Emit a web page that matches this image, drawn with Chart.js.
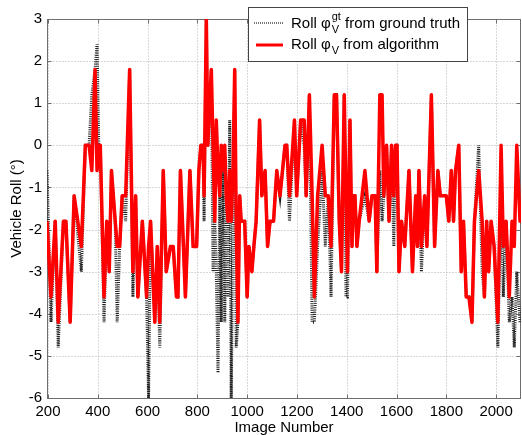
<!DOCTYPE html>
<html>
<head>
<meta charset="utf-8">
<script src="https://cdn.jsdelivr.net/npm/chart.js@4/dist/chart.umd.min.js"></script>
<style>
  html, body { margin: 0; padding: 0; background: #fff; }
  #roll-chart { display: block; }
</style>
</head>
<body>
<canvas id="roll-chart" width="522" height="435"></canvas>
<script>
// image numbers where the roll estimates change
var imageNumbers = [196,212,229,241,262,272,289,305,334,350,365,376,389,397,404,410,425,436,446,455,
  470,478,488,498,512,528,541,552,561,579,596,604,612,629,639,649,663,675,692,703,
  716,722,732,752,770,783,797,806,814,823,827,836,842,856,863,870,876,883,890,896,
  903,910,916,923,930,936,943,950,956,963,970,976,990,1000,1007,1019,1027,1036,1050,1059,
  1072,1082,1092,1106,1119,1132,1152,1159,1170,1190,1199,1215,1229,1237,1250,1261,1270,1283,1301,1314,
  1326,1337,1350,1359,1370,1379,1390,1397,1403,1413,1421,1426,1433,1441,1450,1473,1490,1501,1514,1521,
  1533,1542,1549,1560,1570,1580,1589,1596,1602,1610,1620,1633,1650,1664,1677,1684,1690,1700,1713,1722,
  1740,1753,1766,1776,1793,1800,1810,1820,1829,1837,1850,1860,1869,1880,1891,1903,1913,1930,1944,1953,
  1962,1970,1980,1992,2007,2020,2029,2040,2053,2064,2073,2083,2096,2100];

var rollAlgorithm = [-1.8,-3.6,-1.8,-4.2,-1.8,-1.8,-4.2,-1.2,-2.4,0,0,-0.6,1.8,-0.6,0,0,-3.6,-1.8,-3.0,-0.6,
  -1.8,-2.4,-2.4,-1.2,-1.2,1.8,-3.0,-1.2,-3.6,-1.8,-3.6,-2.4,-1.8,-4.2,-2.4,-4.2,-0.6,-3.0,-2.4,-2.4,
  -3.6,-3.6,-0.6,-3.6,-0.6,-2.4,-2.4,-0.6,0,0,-1.2,3.0,0,1.8,0,-1.8,0.6,-0.6,-1.2,0,
  -0.6,0,-1.2,-1.8,-0.6,-1.8,-0.6,1.8,-1.8,-4.2,-1.2,-1.8,-1.8,-3.6,-2.4,-3.0,-2.4,-1.8,0.6,-1.2,
  -0.6,-2.4,-1.8,-1.8,-0.6,-1.2,0,0,-1.2,0.6,-1.2,0.6,0.6,-1.2,1.2,-1.2,-3.6,-1.2,0,-1.2,
  -1.2,-2.4,1.2,1.2,-1.8,-3.0,1.2,-1.2,-3.0,0.6,-2.4,-1.2,-1.2,-2.4,-1.8,-0.6,-1.8,-1.2,-1.2,-3.0,
  1.2,1.2,-1.2,0,-1.8,0,-1.2,0,0,-3.0,-1.8,-2.4,-0.6,-3.0,-1.2,-2.4,-0.6,-2.4,-1.2,-2.4,
  1.2,-2.4,-0.6,-1.2,-1.2,-1.2,-1.8,-0.6,-1.8,-0.6,0,-3.0,-1.8,-3.6,-3.6,-4.2,-1.8,-0.6,-1.8,-3.6,
  -1.8,-3.0,-1.8,-2.4,-4.2,0,-2.4,-1.8,-3.6,-1.8,-2.4,0,-1.8,-1.8];

var rollGroundTruth = [-0.6,-4.2,-1.8,-4.8,-1.8,-1.8,-4.2,-1.2,-3.0,0,0,1.2,1.8,2.4,0,0,-4.2,-1.8,-3.0,-0.6,
  -1.8,-4.2,-2.4,-1.2,-1.8,1.8,-3.6,-1.2,-3.6,-1.8,-3.6,-6.0,-1.8,-4.2,-2.4,-4.8,-0.6,-3.0,-2.4,-2.4,
  -3.6,-3.6,-0.6,-3.6,-0.6,-2.4,-2.4,-0.6,0,0,-1.8,3.0,0,1.8,-3.0,-1.8,-3.0,-5.4,-1.2,-4.2,
  -0.6,-4.2,-1.2,-3.6,0.6,-6.0,-1.8,1.8,-4.8,-4.2,-1.2,-1.8,-1.8,-3.6,-2.4,-3.0,-2.4,-1.8,0.6,-1.2,
  -0.6,-2.4,-1.8,-1.8,-0.6,-1.2,0,0,-1.8,0.6,-1.2,0.6,0,-1.2,1.2,-4.2,-4.2,-2.4,-0.6,-2.4,
  -1.2,-3.6,1.2,1.2,-1.8,-3.0,1.2,-3.6,-3.6,0.6,-2.4,-1.2,-1.2,-2.4,-1.8,-1.2,-1.8,-1.2,-1.2,-3.0,
  -0.6,-1.8,-1.2,0,-1.8,0,-2.4,0,0,-3.0,-1.8,-2.4,-0.6,-3.0,-1.2,-2.4,-0.6,-3.0,-1.2,-2.4,
  1.2,-2.4,-0.6,-1.2,-1.2,-1.2,-1.8,-0.6,-1.8,-0.6,0,-3.0,-1.8,-3.6,-3.6,-4.2,-1.8,0,-3.0,-3.6,
  -1.8,-3.0,-1.8,-2.4,-4.8,-1.2,-3.6,-1.8,-4.2,-3.6,-4.8,-3.0,-4.2,-4.2];

var xTicks = [200,400,600,800,1000,1200,1400,1600,1800,2000];
var yTicks = [-6,-5,-4,-3,-2,-1,0,1,2,3];

var FONT = "'Liberation Sans', Arial, Helvetica, sans-serif";

function points(values) {
    return imageNumbers.map(function (n, i) { return { x: n, y: values[i] }; });
}

// dotted grid, inward ticks and the box around the plot (matlab style)
var frame = {
    id: 'frame',
    beforeDatasetsDraw: function (chart) {
        var a = chart.chartArea, ctx = chart.ctx;
        var xs = chart.scales.x, ys = chart.scales.y;
        var L = Math.round(a.left) + 0.5, R = Math.round(a.right) - 0.5;
        var T = Math.round(a.top) + 0.5, B = Math.round(a.bottom) + 0.5;
        ctx.save();
        ctx.lineWidth = 1;
        ctx.strokeStyle = '#b0b0b0';
        ctx.setLineDash([1, 2]);
        ctx.beginPath();
        xTicks.forEach(function (v) {
            var px = Math.round(xs.getPixelForValue(v)) + 0.5;
            ctx.moveTo(px, T); ctx.lineTo(px, B);
        });
        yTicks.forEach(function (v) {
            var py = Math.round(ys.getPixelForValue(v)) + 0.5;
            ctx.moveTo(L, py); ctx.lineTo(R, py);
        });
        ctx.stroke();

        ctx.setLineDash([]);
        ctx.strokeStyle = '#6e6e6e';
        ctx.beginPath();
        xTicks.forEach(function (v) {
            var px = Math.round(xs.getPixelForValue(v)) + 0.5;
            ctx.moveTo(px, B); ctx.lineTo(px, B - 4);
            ctx.moveTo(px, T); ctx.lineTo(px, T + 4);
        });
        yTicks.forEach(function (v) {
            var py = Math.round(ys.getPixelForValue(v)) + 0.5;
            ctx.moveTo(L, py); ctx.lineTo(L + 4, py);
            ctx.moveTo(R, py); ctx.lineTo(R - 4, py);
        });
        ctx.stroke();
        ctx.strokeRect(L, T, R - L, B - T);
        ctx.restore();
    }
};

// legend drawn by hand because of the sub/superscripts
var legendBox = {
    id: 'legendBox',
    afterDraw: function (chart) {
        var ctx = chart.ctx;
        ctx.save();
        ctx.fillStyle = '#fff';
        ctx.fillRect(248.5, 7.5, 219, 54);
        ctx.strokeStyle = '#444';
        ctx.lineWidth = 1;
        ctx.strokeRect(248.5, 7.5, 219, 54);

        ctx.beginPath();
        ctx.setLineDash([1, 1]);
        ctx.strokeStyle = '#777';
        ctx.lineWidth = 2;
        ctx.moveTo(254, 23); ctx.lineTo(284, 23);
        ctx.stroke();

        ctx.beginPath();
        ctx.setLineDash([]);
        ctx.strokeStyle = '#ff0000';
        ctx.lineWidth = 3;
        ctx.moveTo(256, 45); ctx.lineTo(283, 45);
        ctx.stroke();

        ctx.fillStyle = '#000';
        ctx.textBaseline = 'alphabetic';
        var rows = [
            { y: 28, sup: 'gt', rest: ' from ground truth' },
            { y: 49, sup: '', rest: ' from algorithm' }
        ];
        rows.forEach(function (r) {
            var x = 291;
            ctx.font = '15px ' + FONT;
            ctx.fillText('Roll ', x, r.y);
            x += ctx.measureText('Roll ').width;
            ctx.fillText('\u03c6', x, r.y);
            x += ctx.measureText('\u03c6').width + 1;
            ctx.font = '11px ' + FONT;
            ctx.fillText('V', x, r.y + 5);
            var w = ctx.measureText('V').width;
            if (r.sup) {
                ctx.fillText(r.sup, x, r.y - 8);
                w = Math.max(w, ctx.measureText(r.sup).width);
            }
            x += w;
            ctx.font = '15px ' + FONT;
            ctx.fillText(r.rest, x, r.y);
        });
        ctx.restore();
    }
};

var rollChart = new Chart(document.getElementById('roll-chart'), {
    type: 'line',
    data: {
        datasets: [
            {
                label: 'Roll from ground truth',
                data: points(rollGroundTruth),
                borderColor: '#222',
                borderWidth: 3,
                borderDash: [1, 1.2],
                pointRadius: 0,
                tension: 0,
                order: 2
            },
            {
                label: 'Roll from algorithm',
                data: points(rollAlgorithm),
                borderColor: '#ff0000',
                borderWidth: 3.5,
                borderJoinStyle: 'round',
                pointRadius: 0,
                tension: 0,
                order: 1
            }
        ]
    },
    options: {
        responsive: false,
        animation: false,
        devicePixelRatio: 1,
        layout: { padding: { top: 19, right: 1, left: 0, bottom: 0 } },
        plugins: {
            legend: { display: false },
            tooltip: { enabled: false }
        },
        scales: {
            x: {
                type: 'linear',
                min: 196,
                max: 2100,
                afterBuildTicks: function (s) { s.ticks = xTicks.map(function (v) { return { value: v }; }); },
                afterFit: function (s) { s.height = 37; },
                grid: { display: false, drawTicks: false },
                border: { display: false },
                ticks: {
                    color: '#000', font: { family: FONT, size: 15 }, padding: 5, maxRotation: 0,
                    callback: function (v) { return String(v); }
                },
                title: { display: true, text: 'Image Number', color: '#000', font: { family: FONT, size: 15 }, padding: { top: 0, bottom: -2 } }
            },
            y: {
                min: -6,
                max: 3,
                afterBuildTicks: function (s) { s.ticks = yTicks.map(function (v) { return { value: v }; }); },
                afterFit: function (s) { s.width = 47; },
                grid: { display: false, drawTicks: false },
                border: { display: false },
                ticks: { color: '#000', font: { family: FONT, size: 15 }, padding: 5 },
                title: { display: true, text: 'Vehicle Roll (\u00b0)', color: '#000', font: { family: FONT, size: 15 }, padding: { top: 8, bottom: 0 } }
            }
        }
    },
    plugins: [frame, legendBox]
});
</script>
</body>
</html>
